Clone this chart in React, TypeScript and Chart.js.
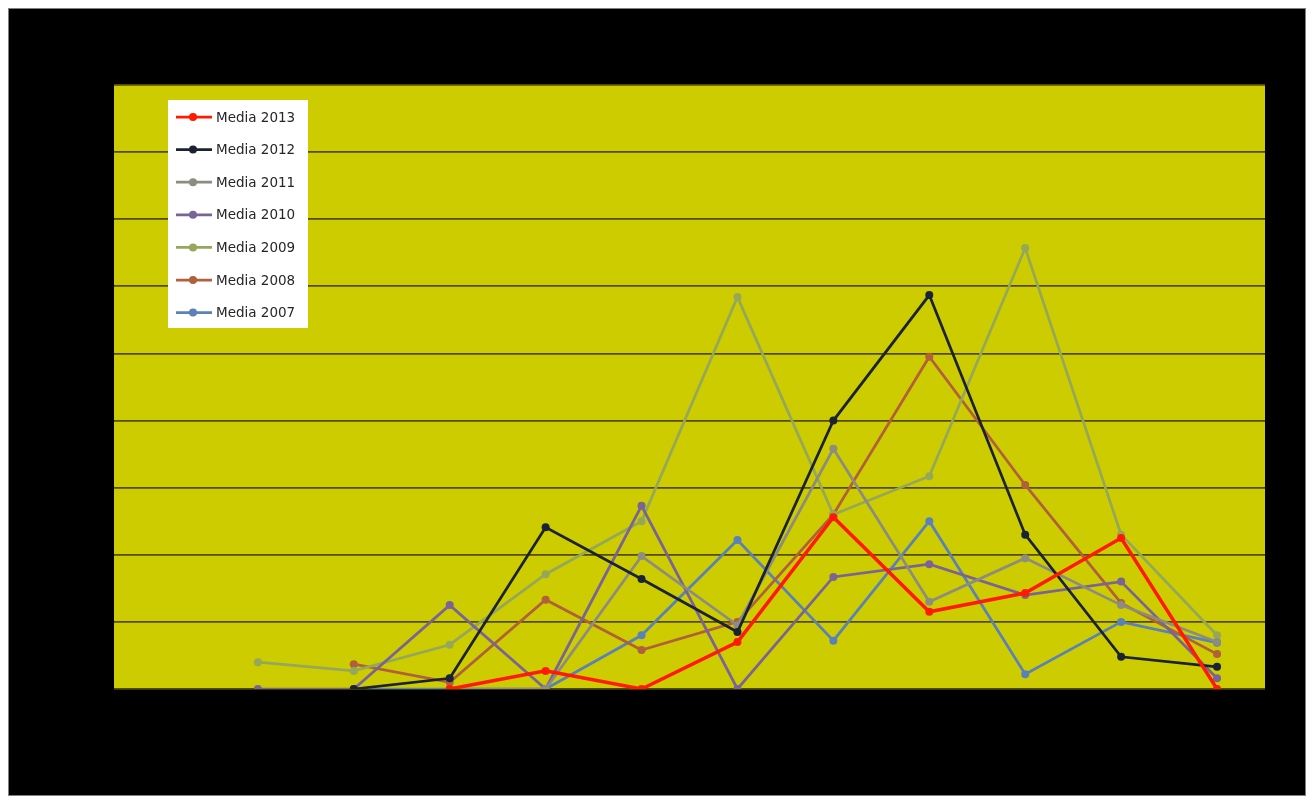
import React, { useEffect, useRef } from "react";
import { Chart, registerables } from "chart.js";

Chart.register(...registerables);

const categories = ["", "Feb", "Mar", "Apr", "Mag", "Giu", "Lug", "Ago", "Set", "Ott", "Nov", "Dic"];
const yTicks = [0, 1, 2, 3, 4, 5, 6, 7, 8, 9];

const media2013 = [null, null, null, 0, 0.27, 0, 0.7, 2.56, 1.15, 1.43, 2.25, 0];
const media2012 = [null, null, 0, 0.16, 2.41, 1.64, 0.85, 4.0, 5.87, 2.3, 0.48, 0.33];
const media2011 = [null, null, null, 0, 0, 1.98, 0.95, 3.58, 1.3, 1.95, 1.25, 0.7];
const media2010 = [null, 0, 0, 1.25, 0, 2.73, 0, 1.67, 1.86, 1.4, 1.6, 0.16];
const media2009 = [null, 0.4, 0.27, 0.66, 1.71, 2.5, 5.84, 2.6, 3.17, 6.57, 2.3, 0.8];
const media2008 = [null, null, 0.37, 0.1, 1.33, 0.58, 1.0, 2.6, 4.95, 3.04, 1.28, 0.52];
const media2007 = [null, null, 0, 0, 0, 0.8, 2.22, 0.72, 2.5, 0.22, 1.0, 0.69];

const seriesLabels = ["Media 2013", "Media 2012", "Media 2011", "Media 2010", "Media 2009", "Media 2008", "Media 2007"];
const seriesColors = ["#ff1a00", "#1b2233", "#8c8c80", "#7a6496", "#95a85a", "#b0603a", "#5a82b8"];
const seriesWidths = [3.5, 2.75, 2.75, 2.75, 2.75, 2.75, 2.75];

const plotBg = {
  id: "plotBg",
  beforeDraw(chart: any) {
    const { ctx, chartArea } = chart;
    ctx.save();
    ctx.fillStyle = "#cccc00";
    ctx.fillRect(chartArea.left, chartArea.top, chartArea.right - chartArea.left, chartArea.bottom - chartArea.top);
    ctx.restore();
  },
};

const boxLegend = {
  id: "boxLegend",
  afterDraw(chart: any) {
    const { ctx, chartArea } = chart;
    const x = chartArea.left + 54;
    const y = chartArea.top + 15;
    const w = 140;
    const h = 228;
    ctx.save();
    ctx.fillStyle = "#ffffff";
    ctx.fillRect(x, y, w, h);
    ctx.font = '13.5px "DejaVu Sans"';
    ctx.textBaseline = "middle";
    chart.data.datasets.forEach((ds: any, i: number) => {
      const cy = y + 17 + i * 32.6;
      ctx.strokeStyle = ds.borderColor;
      ctx.lineWidth = 2.75;
      ctx.beginPath();
      ctx.moveTo(x + 8, cy);
      ctx.lineTo(x + 44, cy);
      ctx.stroke();
      ctx.fillStyle = ds.borderColor;
      ctx.beginPath();
      ctx.arc(x + 25, cy, 4, 0, Math.PI * 2);
      ctx.fill();
      ctx.fillStyle = "#262626";
      ctx.fillText(ds.label, x + 48, cy + 1);
    });
    ctx.restore();
  },
};

export default function App() {
  const ref = useRef<HTMLCanvasElement>(null);
  useEffect(() => {
    document.documentElement.style.overflow = "hidden";
    const seriesData = [media2013, media2012, media2011, media2010, media2009, media2008, media2007];
    const chart = new Chart(ref.current!, {
      type: "line",
      data: {
        labels: categories,
        datasets: seriesData.map((d, i) => ({
          label: seriesLabels[i],
          data: d,
          borderColor: seriesColors[i],
          backgroundColor: seriesColors[i],
          borderWidth: seriesWidths[i],
          pointRadius: 4,
          pointBorderWidth: 0,
          pointBackgroundColor: seriesColors[i],
          tension: 0,
          spanGaps: false,
        })),
      },
      options: {
        animation: false,
        responsive: true,
        maintainAspectRatio: false,
        layout: { padding: { left: 105, top: 76, right: 40, bottom: 106 } },
        plugins: { legend: { display: false }, tooltip: { enabled: false } },
        scales: {
          x: {
            offset: true,
            grid: { display: false, drawTicks: false },
            border: { display: false },
            ticks: { display: false },
          },
          y: {
            min: 0,
            max: 9,
            afterBuildTicks: (axis: any) => {
              axis.ticks = yTicks.map((v) => ({ value: v }));
            },
            grid: { color: "rgb(85,75,0)", lineWidth: 1.75, drawTicks: false },
            border: { display: false },
            ticks: { display: false },
          },
        },
      },
      plugins: [plotBg, boxLegend],
    });
    return () => chart.destroy();
  }, []);
  return (
    <div
      style={{
        width: 1298,
        height: 788,
        background: "#000",
        border: "1px solid #7f7f7f",
        boxSizing: "border-box",
      }}
    >
      <div style={{ position: "relative", width: 1296, height: 786 }}>
        <canvas ref={ref} />
      </div>
    </div>
  );
}
